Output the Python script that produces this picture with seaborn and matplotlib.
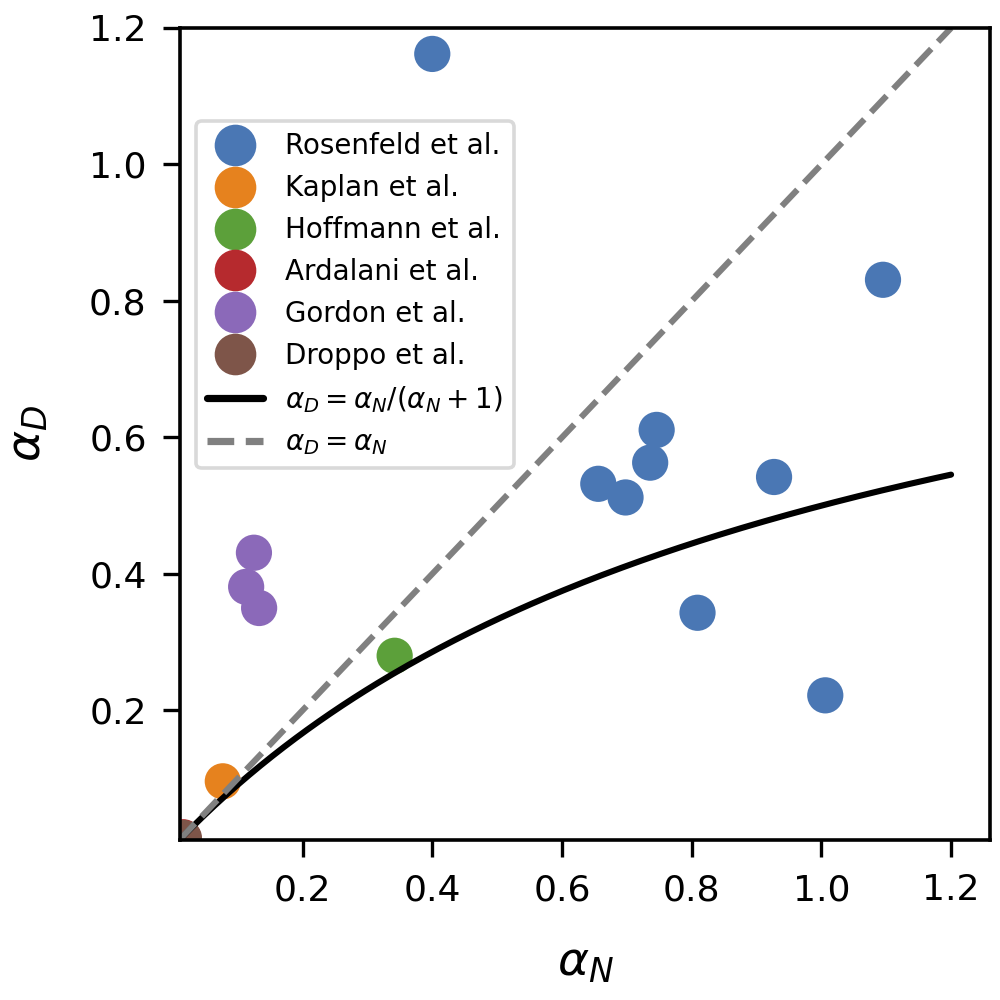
import numpy as np
import pandas as pd
import matplotlib
matplotlib.use("Agg")
import matplotlib.pyplot as plt
import seaborn as sns

studies = ["Rosenfeld et al."] * 9 + ["Kaplan et al.", "Hoffmann et al.", "Ardalani et al."] \
    + ["Gordon et al."] * 3 + ["Droppo et al."]
alpha_n = [0.40, 1.095, 0.746, 0.736, 0.656, 0.698, 0.927, 0.809, 1.006,
           0.077, 0.342, 0.016, 0.125, 0.113, 0.133, 0.017]
alpha_d = [1.162, 0.831, 0.611, 0.563, 0.532, 0.512, 0.542, 0.343, 0.222,
           0.096, 0.280, 0.014, 0.431, 0.381, 0.350, 0.013]

study_order = ["Rosenfeld et al.", "Kaplan et al.", "Hoffmann et al.",
               "Ardalani et al.", "Gordon et al.", "Droppo et al."]
study_colors = ["#4a77b4", "#e6821e", "#5ca03a", "#b62a2e", "#8b69b9", "#7e5549"]

df = pd.DataFrame({"study": studies, "alpha_N": alpha_n, "alpha_D": alpha_d})

sns.set_theme(style="ticks")
plt.rcParams["font.family"] = ["DejaVu Sans"]
plt.rcParams["mathtext.fontset"] = "dejavusans"
plt.rcParams["text.color"] = "black"
plt.rcParams["axes.labelcolor"] = "black"
plt.rcParams["xtick.color"] = "black"
plt.rcParams["ytick.color"] = "black"

fig = plt.figure(figsize=(5, 5), dpi=200)
ax = fig.add_axes([0.18, 0.16, 0.81, 0.812])

sns.scatterplot(data=df, x="alpha_N", y="alpha_D", hue="study", hue_order=study_order,
                palette=dict(zip(study_order, study_colors)), s=170, linewidth=0,
                ax=ax, zorder=1)

# Reference curves
xs = np.linspace(0.01, 1.2, 200)
ax.plot(xs, xs / (xs + 1), color="black", lw=2.2, label=r"$\alpha_D = \alpha_N/(\alpha_N + 1)$")
ax.plot(xs, xs, color="gray", lw=2.2, ls="--", label=r"$\alpha_D = \alpha_N$")

ax.set_xlim(0.011, 1.26)
ax.set_ylim(0.01, 1.2)
ax.set_xticks([0.2, 0.4, 0.6, 0.8, 1.0, 1.2])
ax.set_yticks([0.2, 0.4, 0.6, 0.8, 1.0, 1.2])
ax.set_xlabel(r"$\alpha_N$", fontsize=17, labelpad=12)
ax.set_ylabel(r"$\alpha_D$", fontsize=17, labelpad=14)
ax.tick_params(labelsize=13, length=6, width=1.2, color="black", pad=6)
for sp in ax.spines.values():
    sp.set_linewidth(1.3)
    sp.set_color("black")

leg = ax.legend(loc="upper left", bbox_to_anchor=(0.02, 0.885), borderaxespad=0,
                fontsize=10, frameon=True, fancybox=True, markerscale=1.15)
leg.get_frame().set_edgecolor("#d0d0d0")
leg.get_frame().set_linewidth(1.3)
for h in leg.legend_handles:
    if isinstance(h, matplotlib.lines.Line2D) and h.get_linestyle() != "None":
        h.set_linewidth(2.6)

fig.savefig("out.png", dpi=200)
